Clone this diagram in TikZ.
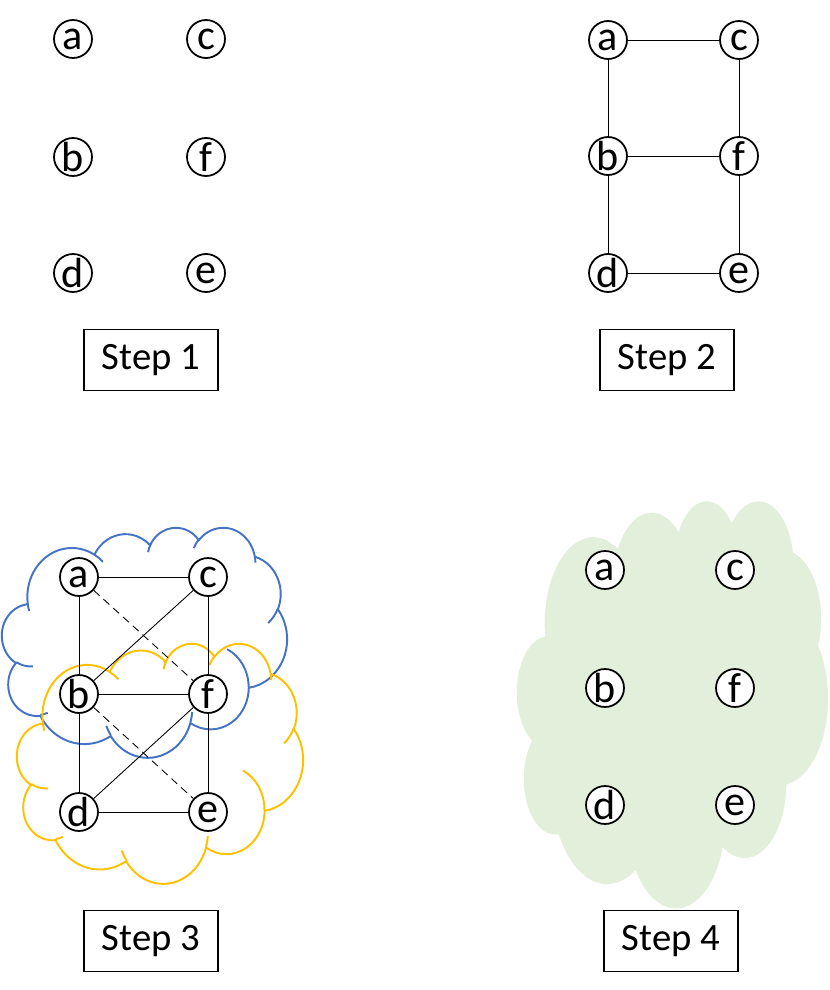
\documentclass[tikz,border=0pt]{standalone}
\usepackage{fontspec}
\setmainfont{Carlito}
\definecolor{cloudblue}{HTML}{4472C4}
\definecolor{cloudyellow}{HTML}{FFC000}
\definecolor{cloudgreen}{HTML}{E2EFDA}

% arc given by radii, start angle and sweep (angles as seen from the centre)
\newcommand{\pptarc}[4]{%
  \pgfextra{%
    \pgfmathparse{atan2(#1*sin(#3),#2*cos(#3))}\xdef\arcstart{\pgfmathresult}%
    \pgfmathparse{mod(atan2(#1*sin(#3+#4),#2*cos(#3+#4))-\arcstart+720,360)}\xdef\arcdelta{\pgfmathresult}%
  }%
  arc[x radius=#1, y radius=#2, start angle=\arcstart, delta angle=\arcdelta]}

% cloud outline in a 43.2 x 43.2 box
\newcommand{\cloudshape}{%
  (3.9,14.37) \pptarc{6.753}{9.19}{-190.4875}{123.7805}
  \pptarc{5.333}{7.267}{-144.1024}{89.9452}
  \pptarc{4.365}{5.945}{-145.8079}{99.723}
  \pptarc{4.857}{6.595}{-130.9861}{117.2417}
  \pptarc{5.333}{7.273}{-78.7089}{109.0269}
  \pptarc{6.775}{9.22}{-46.2673}{130.269}
  \pptarc{5.785}{7.867}{0.625}{114.0333}
  \pptarc{6.752}{9.215}{22.4516}{115.1726}
  \pptarc{7.72}{10.543}{66.2426}{75.711}
  \pptarc{4.36}{5.918}{-274.9421}{146.7356}
  \pptarc{4.345}{5.945}{-246.8285}{152.5189} -- cycle}

% small inner arcs of the cloud
\newcommand{\cloudcreases}{%
  (4.693,26.177) \pptarc{4.345}{5.945}{86.742}{26.4295}
  (6.928,34.899) \pptarc{4.36}{5.918}{73.6105}{11.4475}
  (16.478,39.09) \pptarc{6.752}{9.215}{137.6242}{14.0811}
  (28.827,34.751) \pptarc{6.752}{9.215}{6.4533}{15.9984}
  (34.129,22.954) \pptarc{5.785}{7.867}{-70.2924}{70.9174}
  (41.798,15.354) \pptarc{5.333}{7.273}{30.318}{27.7515}
  (38.324,5.426) \pptarc{4.857}{6.595}{-13.7443}{14.8589}
  (29.078,3.952) \pptarc{4.857}{6.595}{-149.1815}{18.1954}
  (22.141,4.72) \pptarc{4.365}{5.945}{-163.4943}{17.6864}
  (14,5.192) \pptarc{6.753}{9.19}{-66.707}{12.3194}
  (4.127,15.789) \pptarc{6.753}{9.19}{157.6544}{11.8582}}

\tikzset{
  vtx/.style={circle, draw, fill=white, line width=1pt, minimum size=0.76cm,
    inner sep=0pt, font=\fontsize{24}{24}\selectfont},
  stepbox/.style={draw, line width=0.6pt, minimum width=2.68cm, minimum height=1.22cm,
    font=\fontsize{22}{26}\selectfont},
  link/.style={line width=0.5pt},
  cloudline/.style={line width=1.1pt},
}

\begin{document}
\begin{tikzpicture}[x=0.02cm, y=0.02cm, yscale=-1]
    \useasboundingbox (0,0) rectangle (830,990);

    % Step 1
    \node[vtx] (a1) at (73,39) {a};
    \node[vtx] (c1) at (206,39) {c};
    \node[vtx] (b1) at (73,157) {b};
    \node[vtx] (f1) at (206,157) {f};
    \node[vtx] (d1) at (73,273) {d};
    \node[vtx] (e1) at (206,273) {e};
    \node[stepbox] (s1) at (151,360) {Step 1};

    % Step 2
    \node[vtx] (a2) at (608,40) {a};
    \node[vtx] (c2) at (739,40) {c};
    \node[vtx] (b2) at (608,156) {b};
    \node[vtx] (f2) at (739,156) {f};
    \node[vtx] (d2) at (608,273) {d};
    \node[vtx] (e2) at (739,273) {e};
    \draw[link] (a2) -- (c2);
    \draw[link] (a2) -- (b2);
    \draw[link] (c2) -- (f2);
    \draw[link] (b2) -- (f2);
    \draw[link] (b2) -- (d2);
    \draw[link] (f2) -- (e2);
    \draw[link] (d2) -- (e2);
    \node[stepbox] (s2) at (667,360) {Step 2};

    % Step 3
    \begin{scope}[shift={(2,527)}, xscale=285/43.2, yscale=230/43.2]
        \draw[cloudline, cloudblue] \cloudshape;
        \draw[cloudline, cloudblue] \cloudcreases;
    \end{scope}
    \begin{scope}[shift={(17,643)}, xscale=286/43.2, yscale=240/43.2]
        \draw[cloudline, cloudyellow] \cloudshape;
        \draw[cloudline, cloudyellow] \cloudcreases;
    \end{scope}
    \node[vtx] (a3) at (79,577) {a};
    \node[vtx] (c3) at (208,577) {c};
    \node[vtx] (b3) at (79,694) {b};
    \node[vtx] (f3) at (208,694) {f};
    \node[vtx] (d3) at (79,812) {d};
    \node[vtx] (e3) at (208,812) {e};
    \draw[link] (a3) -- (c3);
    \draw[link] (a3) -- (b3);
    \draw[link] (c3) -- (f3);
    \draw[link] (b3) -- (f3);
    \draw[link] (b3) -- (d3);
    \draw[link] (f3) -- (e3);
    \draw[link] (d3) -- (e3);
    \draw[link] (b3) -- (c3);
    \draw[link] (d3) -- (f3);
    \draw[link, dash pattern=on 4.5pt off 3pt] (a3) -- (f3);
    \draw[link, dash pattern=on 4.5pt off 3pt] (b3) -- (e3);
    \node[stepbox] (s3) at (151,941) {Step 3};

    % Step 4
    \begin{scope}[shift={(517,500)}, xscale=311/43.2, yscale=407/43.2]
        \fill[cloudgreen] \cloudshape;
    \end{scope}
    \node[vtx] (a4) at (605,570) {a};
    \node[vtx] (c4) at (735,570) {c};
    \node[vtx] (b4) at (605,688) {b};
    \node[vtx] (f4) at (735,688) {f};
    \node[vtx] (d4) at (605,805) {d};
    \node[vtx] (e4) at (735,805) {e};
    \node[stepbox] (s4) at (671,941) {Step 4};
\end{tikzpicture}
\end{document}
